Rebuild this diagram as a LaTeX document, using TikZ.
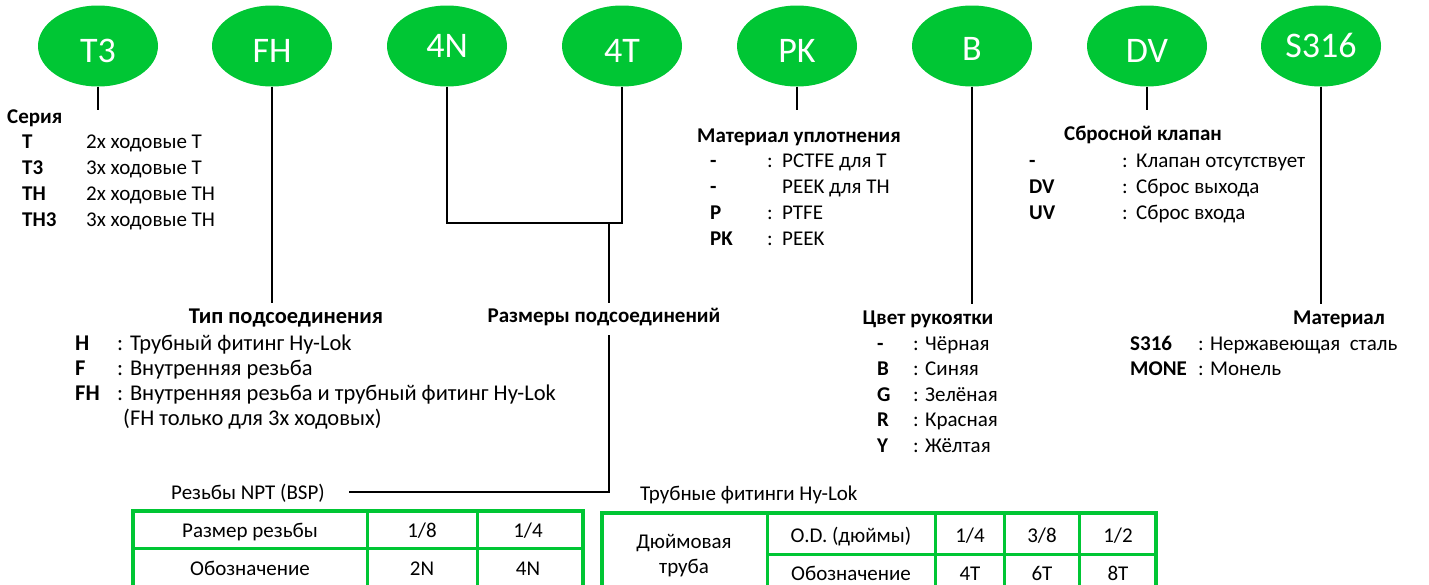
\documentclass[tikz,border=0pt]{standalone}
\usepackage{fontspec}
\setmainfont{Carlito}
\usetikzlibrary{shapes.geometric,positioning}
\definecolor{hygreen}{RGB}{0,198,52}
\newcommand{\bodysize}{\fontsize{21}{25}\selectfont}
\newcommand{\largesize}{\fontsize{22.5}{27}\selectfont}

\begin{document}
\begin{tikzpicture}[x=1pt, y=-1pt,
    badge/.style={ellipse, fill=hygreen, text=white, minimum width=120pt, minimum height=81pt, inner sep=0pt, text height=32pt, text depth=0pt, font=\fontsize{36}{36}\selectfont},
    head/.style={anchor=base, inner sep=0pt, font=\bodysize\bfseries},
    code/.style={anchor=base west, inner sep=0pt, font=\bodysize\bfseries},
    item/.style={anchor=base west, inner sep=0pt, font=\bodysize},
    bighead/.style={head, font=\largesize\bfseries},
    bigcode/.style={code, font=\largesize\bfseries},
    bigitem/.style={item, font=\largesize},
    cell/.style={anchor=base, inner sep=0pt, font=\bodysize},
    link/.style={line width=1.7pt},
    frame/.style={draw=hygreen, line width=4.5pt},
    rule/.style={draw=hygreen, line width=3pt}
]
\useasboundingbox (0,0) rectangle (1429,584);
\clip (0,0) rectangle (1429,584);

% code badges
\node[badge] (t3) at (98,46) {T3};
\node[badge] (fh) at (272,46) {FH};
\node[badge, text height=22pt] (n4) at (447,46) {4N};
\node[badge] (t4) at (622,46) {4T};
\node[badge] (pk) at (797,46) {PK};
\node[badge, text height=28pt] (b) at (972,46) {B};
\node[badge] (dv) at (1147,46) {DV};
\node[badge, text height=22pt] (s316) at (1321,46) {S316};

% series
\node[head, anchor=base west] (series) at (7,123) {Серия};
\foreach \y/\c/\d [count=\i] in {148/T/2х ходовые Т, 174/T3/3х ходовые Т, 200/TH/2х ходовые ТН, 226/TH3/3х ходовые ТН} {
  \node[code] (sc\i) at (22,\y) {\c};
  \node[item] (sd\i) at (86,\y) {\d};
}

% connection type
\node[bighead] (ctype) at (286,323) {Тип подсоединения};
\foreach \y/\c/\d [count=\i] in {350/H/Трубный фитинг Hy-Lok, 375/F/Внутренняя резьба, 400/FH/Внутренняя резьба и трубный фитинг Hy-Lok} {
  \node[bigcode] (cc\i) at (75,\y) {\c};
  \node[bigitem] (cd\i) at (117,\y) {: \d};
}
\node[bigitem] (cnote) at (123,425) {(FH только для 3х ходовых)};

% connection sizes
\node[head] (sizes) at (604,322) {Размеры подсоединений};

% seal material
\node[head] (seal) at (799,142) {Материал уплотнения};
\foreach \y/\c/\k/\d [count=\i] in {167/-/:/PCTFE для Т, 193/-//PEEK для ТН, 219/P/:/PTFE, 245/PK/:/PEEK} {
  \node[code] (pc\i) at (710,\y) {\c};
  \node[item] (pk\i) at (767,\y) {\k};
  \node[item] (pd\i) at (782,\y) {\d};
}

% handle colour
\node[head] (handle) at (928,324) {Цвет рукоятки};
\foreach \y/\c/\d [count=\i] in {350/-/Чёрная, 375/B/Синяя, 401/G/Зелёная, 426/R/Красная, 452/Y/Жёлтая} {
  \node[code] (hc\i) at (877,\y) {\c};
  \node[item] (hk\i) at (913,\y) {:};
  \node[item] (hd\i) at (925,\y) {\d};
}

% relief valve
\node[head] (relief) at (1143,140) {Сбросной клапан};
\foreach \y/\c/\d [count=\i] in {167/-/Клапан отсутствует, 193/DV/Сброс выхода, 219/UV/Сброс входа} {
  \node[code] (rc\i) at (1029,\y) {\c};
  \node[item] (rk\i) at (1122,\y) {:};
  \node[item] (rd\i) at (1136,\y) {\d};
}

% body material
\node[head] (mat) at (1339,324) {Материал};
\node[code] (mc1) at (1130,350) {S316};
\node[item] (md1) at (1198,350) {: Нержавеющая\ \ сталь};
\node[code] (mc2) at (1130,375) {MONE};
\node[item] (md2) at (1198,375) {: Монель};

% connectors
\coordinate (t3end) at (98,110);
\coordinate (fhend) at (272,303);
\coordinate (bridge) at (609,223);
\coordinate (sizestop) at (609,303);
\coordinate (sizesbot) at (609,335);
\coordinate (nptend) at (349,492);
\coordinate (pkend) at (797,110);
\coordinate (bend) at (972,304);
\coordinate (dvend) at (1147,110);
\coordinate (s316end) at (1321,304);

\draw[link] (t3) -- (t3end);
\draw[link] (fh) -- (fhend);
\draw[link] (n4) |- (bridge) -| (t4);
\draw[link] (bridge) -- (sizestop);
\draw[link] (sizesbot) |- (nptend);
\draw[link] (pk) -- (pkend);
\draw[link] (b) -- (bend);
\draw[link] (dv) -- (dvend);
\draw[link] (s316) -- (s316end);

% NPT thread table
\node[item] (npt) at (171,499) {Резьбы NPT (BSP)};
\draw[frame] (133,511) rectangle (583,620);
\draw[rule] (367,511) -- (367,620);
\draw[rule] (477,511) -- (477,620);
\draw[rule] (133,548) -- (583,548);
\node[cell] (na1) at (250,537) {Размер резьбы};
\node[cell] (na2) at (422,537) {1/8};
\node[cell] (na3) at (528,537) {1/4};
\node[cell] (nb1) at (250,575) {Обозначение};
\node[cell] (nb2) at (422,575) {2N};
\node[cell] (nb3) at (528,575) {4N};

% tube fitting table
\node[item] (tube) at (640,500) {Трубные фитинги Hy-Lok};
\draw[frame] (602,513) rectangle (1156,620);
\foreach \x in {767,935,1004,1079} {
  \draw[rule] (\x,513) -- (\x,620);
}
\draw[rule] (767,554) -- (1156,554);
\node[cell] (ta1) at (684,548) {Дюймовая};
\node[cell] (ta2) at (684,573) {труба};
\node[cell] (tb1) at (851,542) {O.D. (дюймы)};
\node[cell] (tb2) at (970,542) {1/4};
\node[cell] (tb3) at (1042,542) {3/8};
\node[cell] (tb4) at (1118,542) {1/2};
\node[cell] (tc1) at (851,580) {Обозначение};
\node[cell] (tc2) at (970,580) {4T};
\node[cell] (tc3) at (1042,580) {6T};
\node[cell] (tc4) at (1118,580) {8T};
\end{tikzpicture}
\end{document}
